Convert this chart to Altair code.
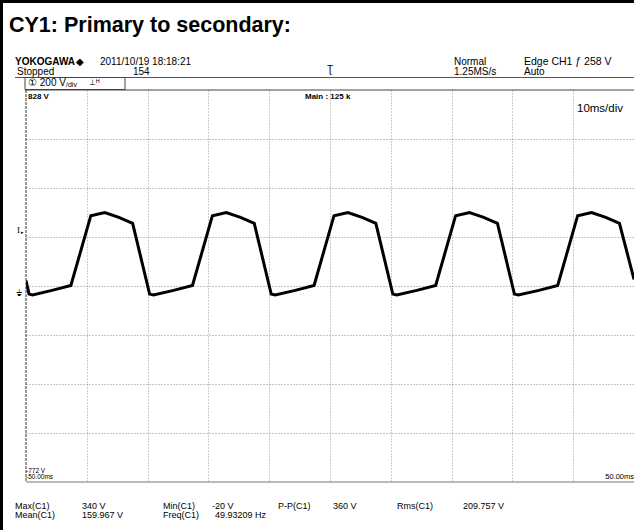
import altair as alt
import pandas as pd

# ---- data ----
time_ms = [-50.0, -49.5, -48.9, -45.72, -42.62,
           -39.34, -37.05, -34.72, -32.46, -29.67, -29.02, -25.72, -22.62,
           -19.34, -17.05, -14.72, -12.46, -9.67, -9.02, -5.72, -2.62,
           0.66, 2.95, 5.28, 7.54, 10.33, 10.98, 14.28, 17.38,
           20.66, 22.95, 25.28, 27.54, 30.33, 30.98, 34.35, 37.45,
           40.73, 43.02, 45.35, 47.61, 50.0]
volts = [50, -5, -9, 10, 30,
         315, 328, 308, 284, -5, -9, 10, 30,
         315, 328, 308, 284, -5, -9, 10, 30,
         315, 328, 308, 284, -5, -9, 10, 30,
         315, 328, 308, 284, -5, -9, 10, 30,
         315, 328, 308, 284, 55]
x_grid = [-40, -30, -20, -10, 0, 10, 20, 30, 40]
y_grid = [-572, -372, -172, 28, 228, 428, 628]
t_min, t_max = -50, 50
v_min, v_max = -772, 828
trig_level = 258

W, H = 608, 392
PL, PT = 26, 90
FONT = "Liberation Sans"

wave = pd.DataFrame({"t": time_ms, "v": volts})
one = pd.DataFrame({"a": [0]})

xs = alt.Scale(domain=[t_min, t_max], nice=False, zero=False)
ys = alt.Scale(domain=[v_min, v_max], nice=False, zero=False)

base = alt.Chart(wave).mark_line(color="black", strokeWidth=3, clip=True).encode(
    x=alt.X("t:Q", scale=xs,
            axis=alt.Axis(values=x_grid, grid=True, labels=False, ticks=False, domain=False,
                          title=None, gridDash=[1, 2], gridColor="#9a9a9a", gridWidth=1)),
    y=alt.Y("v:Q", scale=ys,
            axis=alt.Axis(values=y_grid, grid=True, labels=False, ticks=False, domain=False,
                          title=None, gridDash=[1, 2], gridColor="#8a8a8a", gridWidth=1)),
)


def txt(s, ax, ay, size=10, weight="normal", font=FONT, align="left", color="black"):
    return alt.Chart(one).mark_text(text=s, align=align, baseline="alphabetic", fontSize=size,
                                    fontWeight=weight, font=font, color=color).encode(
        x=alt.value(ax - PL), y=alt.value(ay - PT))


def box(x1, y1, x2, y2, fill=None, stroke=None, sw=1):
    kw = {}
    if fill:
        kw["fill"] = fill
    else:
        kw["fillOpacity"] = 0
    if stroke:
        kw["stroke"] = stroke
        kw["strokeWidth"] = sw
    return alt.Chart(one).mark_rect(**kw).encode(
        x=alt.value(x1 - PL), x2=alt.value(x2 - PL), y=alt.value(y1 - PT), y2=alt.value(y2 - PT))


def hline(x1, x2, ay, color="#555", sw=1):
    return alt.Chart(one).mark_rule(color=color, strokeWidth=sw).encode(
        x=alt.value(x1 - PL), x2=alt.value(x2 - PL), y=alt.value(ay - PT))


layers = [base]

# plot frame lines (top, bottom, left edge)
layers.append(alt.Chart(one).mark_rule(color="#444", strokeWidth=1).encode(
    y=alt.datum(v_max, scale=ys), x=alt.value(-1), x2=alt.value(W)))
layers.append(alt.Chart(one).mark_rule(color="#777", strokeWidth=1).encode(
    y=alt.datum(v_min, scale=ys), x=alt.value(0), x2=alt.value(W)))
layers.append(alt.Chart(one).mark_rule(color="#333", strokeWidth=1, strokeDash=[3, 1]).encode(
    x=alt.datum(t_min, scale=xs), y=alt.value(0), y2=alt.value(H)))

# header lines and channel box
layers.append(hline(15, 634, 77.5, color="#555"))
layers.append(box(25, 77.5, 125, 89.5, stroke="#444"))

# outer frame (left and top)
layers.append(box(0, 0, 3, 530, fill="black"))
layers.append(box(0, 0, 634, 3, fill="black"))

# title
layers.append(txt("CY1: Primary to secondary:", 9, 32, size=21.5, weight="bold"))

# scope header texts
layers.append(txt("YOKOGAWA", 15, 65, size=10, weight="bold"))
layers.append(txt("◆", 76, 65, size=10))
layers.append(txt("2011/10/19  18:18:21", 100, 65, size=10))
layers.append(txt("Stopped", 17, 75, size=10))
layers.append(txt("154", 133, 75, size=10))
layers.append(txt("Normal", 454, 65, size=10))
layers.append(txt("1.25MS/s", 454, 75, size=10))
layers.append(txt("Edge CH1 ƒ 258 V", 524, 65, size=10.5))
layers.append(txt("Auto", 524, 75, size=10))
layers.append(txt("① 200 V", 28, 86, size=10))
layers.append(txt("/div", 66, 87, size=7))
layers.append(txt("⊥ᴴ", 89, 85, size=8))

# trigger position marker at t=0 (header)
layers.append(alt.Chart(one).mark_text(text="Ʈ", align="center", baseline="alphabetic", fontSize=10,
                                       font=FONT).encode(x=alt.datum(0, scale=xs), y=alt.value(73 - PT)))

# screen labels
layers.append(txt("828 V", 28, 98.5, size=8, weight="bold"))
layers.append(txt("Main : 125 k", 305, 98.5, size=8, weight="bold"))
layers.append(txt("10ms/div", 577, 112, size=11.5))
layers.append(txt("-772 V", 26, 473, size=6.5))
layers.append(txt("-50.00ms", 26, 479, size=6.5))
layers.append(txt("50.00ms", 634, 479, size=7.5, align="right"))

# left markers: trigger level and ground
layers.append(alt.Chart(one).mark_text(text="I", align="left", baseline="middle", fontSize=9,
                                       font="Liberation Serif").encode(
    x=alt.value(17 - PL), y=alt.datum(trig_level, scale=ys)))
layers.append(alt.Chart(one).mark_text(text="▸", align="left", baseline="middle", fontSize=5,
                                       font=FONT).encode(
    x=alt.value(21 - PL), y=alt.datum(trig_level - 8, scale=ys)))
layers.append(alt.Chart(one).mark_text(text="⏚", align="left", baseline="middle", fontSize=9,
                                       font="DejaVu Sans").encode(
    x=alt.value(16 - PL), y=alt.datum(0, scale=ys)))

# measurement rows
row1, row2 = 509, 517.5
layers += [
    txt("Max(C1)", 15, row1, size=9), txt("340 V", 82, row1, size=9),
    txt("Min(C1)", 163, row1, size=9), txt("-20 V", 212, row1, size=9),
    txt("P-P(C1)", 278, row1, size=9), txt("360 V", 333, row1, size=9),
    txt("Rms(C1)", 397, row1, size=9), txt("209.757 V", 463, row1, size=9),
    txt("Mean(C1)", 15, row2, size=9), txt("159.967 V", 82, row2, size=9),
    txt("Freq(C1)", 163, row2, size=9), txt("49.93209 Hz", 215, row2, size=9),
]

chart = alt.layer(*layers).properties(
    width=W, height=H,
    padding={"left": PL, "top": PT, "right": 0, "bottom": 530 - PT - H},
    autosize="none",
    background="white",
).configure_view(stroke=None)

chart.save("out.html", embed_options={"renderer": "svg", "actions": False})
